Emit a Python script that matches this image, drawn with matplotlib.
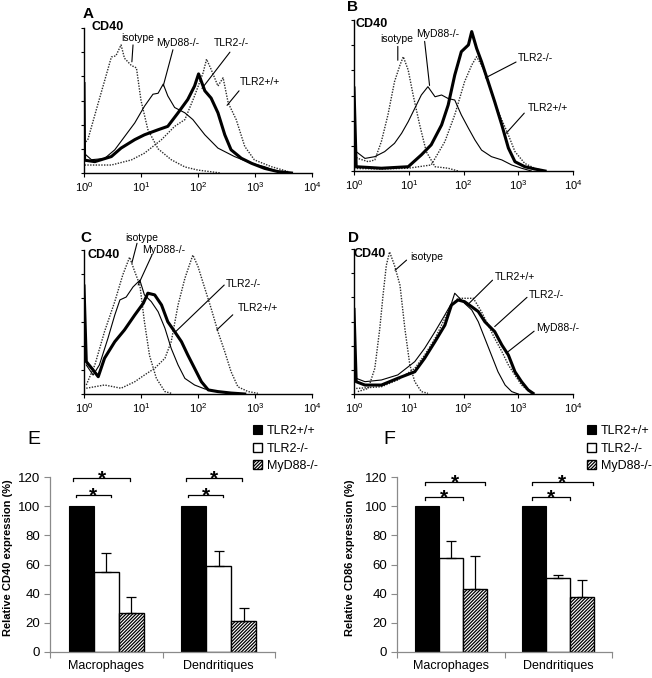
import matplotlib.pyplot as plt
import numpy as np

plt.rcParams['font.family'] = ['Liberation Sans', 'DejaVu Sans']
plt.rcParams['mathtext.default'] = 'regular'
plt.rcParams['hatch.linewidth'] = 0.9

W, H = 652, 678

# Flow cytometry histograms: x = log10 fluorescence (decades), y = cell count (tick units)
# Panel A
a_iso_x = [0.0, 0.07, 0.25, 0.42, 0.48, 0.56, 0.65, 0.71, 0.83, 0.92, 1.0, 1.12, 1.3, 1.53, 1.77, 2.0, 2.4]
a_iso_y = [1.2, 1.4, 2.9, 4.3, 4.8, 4.85, 5.3, 4.75, 4.45, 4.35, 3.0, 1.8, 1.0, 0.55, 0.25, 0.12, 0.0]
a_wt_x = [0.01, 0.48, 0.83, 1.06, 1.36, 1.59, 1.77, 1.94, 2.09, 2.15, 2.23, 2.35, 2.44, 2.53, 2.67, 2.82, 2.99, 3.29, 3.58]
a_wt_y = [0.33, 0.33, 0.54, 0.82, 1.38, 1.93, 2.21, 3.19, 4.15, 4.71, 4.29, 3.6, 3.94, 2.9, 2.21, 1.10, 0.54, 0.26, 0.06]
a_myd_x = [0.01, 0.13, 0.36, 0.54, 0.71, 0.89, 1.06, 1.21, 1.30, 1.39, 1.47, 1.59, 1.77, 1.91, 2.12, 2.35, 2.64, 2.94, 3.17, 3.40]
a_myd_y = [0.8, 0.55, 0.6, 0.96, 1.5, 2.07, 2.76, 3.26, 3.3, 3.68, 3.19, 2.71, 2.49, 2.21, 1.58, 1.03, 0.68, 0.40, 0.26, 0.06]
a_ko_x = [0.0, 0.01, 0.19, 0.48, 0.65, 0.89, 1.06, 1.30, 1.47, 1.65, 1.82, 1.94, 2.01, 2.12, 2.23, 2.35, 2.47, 2.58, 2.76, 2.94, 3.17, 3.40, 3.64]
a_ko_y = [3.7, 0.53, 0.47, 0.68, 1.03, 1.38, 1.58, 1.79, 1.93, 2.49, 3.04, 3.6, 4.1, 3.4, 3.1, 2.49, 1.58, 0.96, 0.61, 0.40, 0.19, 0.06, 0.0]

# Panel B
b_iso_x = [0.0, 0.07, 0.26, 0.38, 0.50, 0.62, 0.74, 0.84, 0.90, 0.99, 1.08, 1.20, 1.32, 1.48, 1.72, 1.90]
b_iso_y = [0.6, 0.5, 0.37, 0.44, 1.17, 2.23, 3.55, 4.21, 4.54, 4.01, 3.02, 1.83, 0.77, 0.17, 0.11, 0.0]
b_wt_x = [0.0, 0.5, 0.99, 1.41, 1.66, 1.84, 2.02, 2.15, 2.24, 2.36, 2.51, 2.66, 2.82, 2.94, 3.12, 3.30, 3.49]
b_wt_y = [0.1, 0.08, 0.11, 0.24, 1.17, 2.23, 3.55, 4.21, 4.54, 4.08, 3.15, 2.23, 1.43, 0.77, 0.30, 0.11, 0.0]
b_myd_x = [0.04, 0.20, 0.38, 0.56, 0.74, 0.87, 0.99, 1.11, 1.23, 1.35, 1.48, 1.60, 1.72, 1.84, 1.96, 2.09, 2.21, 2.33, 2.51, 2.70, 2.88, 3.06, 3.24]
b_myd_y = [0.77, 0.5, 0.57, 0.77, 1.10, 1.50, 1.96, 2.49, 3.02, 3.35, 2.95, 3.02, 2.88, 2.82, 2.23, 1.70, 1.23, 0.83, 0.57, 0.44, 0.24, 0.11, 0.0]
b_ko_x = [0.0, 0.04, 0.50, 0.99, 1.23, 1.41, 1.60, 1.72, 1.84, 1.96, 2.09, 2.15, 2.24, 2.33, 2.45, 2.57, 2.70, 2.82, 2.94, 3.12, 3.30, 3.49]
b_ko_y = [3.3, 0.17, 0.11, 0.17, 0.64, 1.04, 1.83, 2.62, 3.81, 4.74, 5.01, 5.54, 4.87, 4.34, 3.55, 2.75, 1.83, 0.91, 0.37, 0.17, 0.08, 0.0]

# Panel C
c_iso_x = [0.04, 0.19, 0.36, 0.54, 0.68, 0.80, 0.89, 0.98, 1.06, 1.15, 1.27, 1.42, 1.53]
c_iso_y = [0.375, 1.21, 2.60, 3.85, 4.96, 5.7, 5.1, 4.54, 3.01, 1.6, 0.65, 0.1, 0.03]
c_wt_x = [0.04, 0.36, 0.65, 0.89, 1.06, 1.24, 1.42, 1.53, 1.65, 1.77, 1.85, 1.91, 2.0, 2.12, 2.23, 2.35, 2.47, 2.58, 2.70, 2.88, 3.05]
c_wt_y = [0.24, 0.375, 0.24, 0.51, 0.79, 1.07, 1.49, 2.18, 3.71, 4.82, 5.38, 5.79, 5.31, 4.40, 3.57, 2.60, 1.76, 0.93, 0.30, 0.10, 0.03]
c_myd_x = [0.04, 0.16, 0.27, 0.42, 0.54, 0.63, 0.74, 0.86, 0.98, 1.06, 1.18, 1.30, 1.42, 1.53, 1.65, 1.77, 1.94, 2.12, 2.35, 2.58]
c_myd_y = [1.21, 0.79, 1.21, 2.32, 3.29, 3.92, 4.04, 4.46, 4.74, 4.13, 3.85, 3.43, 2.74, 1.90, 1.21, 0.65, 0.375, 0.21, 0.10, 0.03]
c_ko_x = [0.0, 0.04, 0.16, 0.25, 0.36, 0.54, 0.71, 0.89, 1.04, 1.12, 1.24, 1.36, 1.47, 1.59, 1.71, 1.82, 1.94, 2.06, 2.18, 2.35, 2.58, 2.82]
c_ko_y = [4.5, 1.35, 1.0, 0.72, 1.49, 2.18, 2.67, 3.29, 3.78, 4.2, 4.13, 3.71, 3.01, 2.6, 2.18, 1.63, 1.07, 0.51, 0.17, 0.10, 0.04, 0.0]

# Panel D
d_iso_x = [0.07, 0.26, 0.38, 0.47, 0.53, 0.59, 0.65, 0.74, 0.84, 0.93, 1.02, 1.11, 1.23, 1.35]
d_iso_y = [0.1, 0.23, 1.06, 2.69, 4.08, 5.32, 5.88, 5.32, 4.5, 2.69, 1.20, 0.51, 0.10, 0.03]
d_wt_x = [0.04, 0.50, 0.80, 1.11, 1.29, 1.48, 1.66, 1.78, 1.90, 2.02, 2.18, 2.33, 2.45, 2.57, 2.70, 2.82, 2.94, 3.06, 3.24]
d_wt_y = [0.23, 0.30, 0.58, 1.06, 1.61, 2.30, 3.13, 3.68, 3.96, 3.96, 3.96, 3.4, 2.85, 2.3, 1.76, 1.2, 0.78, 0.37, 0.03]
d_myd_x = [0.04, 0.20, 0.50, 0.80, 1.11, 1.29, 1.48, 1.66, 1.78, 1.84, 1.93, 2.02, 2.15, 2.27, 2.39, 2.51, 2.63, 2.76, 2.88, 3.0]
d_myd_y = [0.65, 0.51, 0.58, 0.79, 1.34, 1.89, 2.58, 3.27, 3.75, 4.17, 3.96, 3.75, 3.48, 2.99, 2.3, 1.61, 0.92, 0.37, 0.1, 0.0]
d_ko_x = [0.0, 0.04, 0.20, 0.50, 0.80, 1.11, 1.29, 1.48, 1.66, 1.78, 1.90, 2.02, 2.15, 2.27, 2.39, 2.57, 2.70, 2.82, 2.94, 3.06, 3.18, 3.27]
d_ko_y = [3.5, 0.51, 0.37, 0.37, 0.65, 0.92, 1.48, 2.17, 2.85, 3.68, 3.89, 3.82, 3.61, 3.41, 2.99, 2.58, 2.03, 1.61, 0.92, 0.51, 0.17, 0.03]

decades = [0, 1, 2, 3, 4]

# Relative expression bar charts
groups = ['Macrophages', 'Dendritiques']
strains = ['TLR2+/+', 'TLR2-/-', 'MyD88-/-']
cd40_wt = [100, 100]
cd40_tlr2 = [55, 59]
cd40_tlr2_err = [13, 10.5]
cd40_myd88 = [26.5, 21.5]
cd40_myd88_err = [11, 8.8]
cd86_wt = [100, 100]
cd86_tlr2 = [64.5, 51]
cd86_tlr2_err = [11.6, 1.6]
cd86_myd88 = [43, 38]
cd86_myd88_err = [22.5, 11.6]

fig = plt.figure(figsize=(W / 100, H / 100), dpi=100)


def px_rect(l, t, r, b):
    return [l / W, 1 - b / H, (r - l) / W, (b - t) / H]


def ftext(x, y, s, **kw):
    fig.text(x / W, 1 - y / H, s, **kw)


dotted = dict(color='#2a2a2a', lw=1.0, ls=(0, (1, 1)))
thin = dict(color='black', lw=0.8)
thick = dict(color='black', lw=2.2)


def hist_panel(box, curves, notes):
    ax = fig.add_axes(px_rect(*box))
    for x, y, style in curves:
        ax.plot(x, y, **style)
    ax.set_xlim(0, 4)
    ax.set_ylim(0, 6)
    ax.set_xticks(decades)
    ax.set_xticklabels(['$10^{%d}$' % d for d in decades], fontsize=8)
    ax.set_yticks(range(7))
    ax.set_yticklabels([])
    ax.tick_params(axis='x', length=3, width=0.8, pad=2)
    ax.tick_params(axis='y', length=2.5, width=0.8)
    for s in ['top', 'right']:
        ax.spines[s].set_visible(False)
    for s in ['left', 'bottom']:
        ax.spines[s].set_linewidth(1.0)
    for text, txy, ha, p0, p1 in notes:
        ax.annotate('', xy=p1, xytext=p0, annotation_clip=False,
                    arrowprops=dict(arrowstyle='-', lw=0.8, color='black',
                                    shrinkA=0, shrinkB=0))
        ax.text(txy[0], txy[1], text, ha=ha, va='center', fontsize=7.5, clip_on=False)
    return ax


hist_panel((84, 28, 312, 173),
           [(a_iso_x, a_iso_y, dotted), (a_wt_x, a_wt_y, dotted),
            (a_myd_x, a_myd_y, thin), (a_ko_x, a_ko_y, thick)],
           [('isotype', (0.95, 5.6), 'center', (0.86, 5.3), (0.84, 4.6)),
            ('MyD88-/-', (1.65, 5.4), 'center', (1.56, 5.1), (1.39, 3.6)),
            ('TLR2-/-', (2.58, 5.4), 'center', (2.56, 5.0), (2.07, 3.5)),
            ('TLR2+/+', (2.74, 3.75), 'left', (2.72, 3.4), (2.51, 2.8))])
hist_panel((354, 20, 573, 171),
           [(b_iso_x, b_iso_y, dotted), (b_wt_x, b_wt_y, dotted),
            (b_myd_x, b_myd_y, thin), (b_ko_x, b_ko_y, thick)],
           [('isotype', (0.78, 5.24), 'center', (0.8, 4.95), (0.8, 4.4)),
            ('MyD88-/-', (1.53, 5.44), 'center', (1.29, 5.15), (1.38, 3.4)),
            ('TLR2-/-', (3.0, 4.48), 'left', (2.96, 4.33), (2.4, 3.7)),
            ('TLR2+/+', (3.17, 2.5), 'left', (3.11, 2.3), (2.78, 1.5))])
hist_panel((84, 250, 312, 394),
           [(c_iso_x, c_iso_y, dotted), (c_wt_x, c_wt_y, dotted),
            (c_myd_x, c_myd_y, thin), (c_ko_x, c_ko_y, thick)],
           [('isotype', (1.02, 6.5), 'center', (0.93, 6.28), (0.84, 5.46)),
            ('MyD88-/-', (1.39, 6.0), 'center', (1.19, 5.78), (0.95, 4.54)),
            ('TLR2-/-', (2.48, 4.6), 'left', (2.46, 4.54), (1.6, 2.58)),
            ('TLR2+/+', (2.7, 3.58), 'left', (2.61, 3.3), (2.33, 2.67))])
hist_panel((354, 249, 573, 394),
           [(d_iso_x, d_iso_y, dotted), (d_wt_x, d_wt_y, dotted),
            (d_myd_x, d_myd_y, thin), (d_ko_x, d_ko_y, thick)],
           [('isotype', (1.02, 5.66), 'left', (0.96, 5.54), (0.75, 5.12)),
            ('TLR2+/+', (2.57, 4.83), 'left', (2.53, 4.71), (2.07, 3.68)),
            ('TLR2-/-', (3.2, 4.09), 'left', (3.16, 4.0), (2.57, 2.79)),
            ('MyD88-/-', (3.33, 2.73), 'left', (3.29, 2.6), (2.78, 1.69))])

for letter, lx, ly, cx, cy in [('A', 83, 14, 91, 27), ('B', 347, 7, 355, 24),
                               ('C', 80, 238, 88, 255), ('D', 348, 238, 353, 254)]:
    ftext(lx, ly, letter, fontsize=11, fontweight='bold', ha='left', va='center')
    ftext(cx, cy, 'CD40', fontsize=9, fontweight='bold', ha='left', va='center')


def bar_panel(box, wt, tlr2, tlr2_err, myd, myd_err, spans, ylabel, letter, letter_px, ylabel_px, legend_px):
    ax = fig.add_axes(px_rect(*box))
    x = np.array([0.5, 1.5])
    w = 0.222
    b1 = ax.bar(x - w, wt, w, color='black', edgecolor='black', lw=0.8)
    b2 = ax.bar(x, tlr2, w, color='white', edgecolor='black', lw=1.0)
    b3 = ax.bar(x + w, myd, w, color='white', edgecolor='black', hatch='//////////', lw=1.0)
    ax.errorbar(x, tlr2, yerr=[np.zeros(2), tlr2_err], fmt='none', ecolor='black',
                elinewidth=0.9, capsize=3.4, capthick=0.9)
    ax.errorbar(x + w, myd, yerr=[np.zeros(2), myd_err], fmt='none', ecolor='black',
                elinewidth=0.9, capsize=3.4, capthick=0.9)
    # significance brackets
    for xc in x:
        for lo, hi, y in spans:
            x0, x1 = xc - w + lo, xc + hi
            ax.plot([x0, x0, x1, x1], [y - 2, y, y, y - 2], color='black', lw=0.9, clip_on=False)
            ax.text((x0 + x1) / 2, y - 4.5, '*', ha='center', va='baseline',
                    fontsize=15, fontweight='bold', clip_on=False)
    ax.set_xlim(0, 2)
    ax.set_ylim(0, 120)
    ax.set_yticks(range(0, 121, 20))
    ax.set_xticks([0, 1, 2])
    ax.set_xticklabels([])
    ax.set_xticks(x, minor=True)
    ax.set_xticklabels(groups, minor=True, fontsize=9)
    ax.tick_params(axis='x', which='major', length=4, color='#8a8a8a')
    ax.tick_params(axis='x', which='minor', length=0, pad=6)
    ax.tick_params(axis='y', length=4, color='#8a8a8a', labelsize=9.5, pad=3)
    for s in ['top', 'right']:
        ax.spines[s].set_visible(False)
    for s in ['left', 'bottom']:
        ax.spines[s].set_color('#8a8a8a')
        ax.spines[s].set_linewidth(0.9)
    ftext(letter_px[0], letter_px[1], letter, fontsize=14, ha='left', va='center')
    ftext(ylabel_px[0], ylabel_px[1], ylabel, fontsize=8, fontweight='bold',
          rotation=90, ha='center', va='center')
    ax.legend([b1, b2, b3], strains, loc='upper left',
              bbox_to_anchor=(legend_px[0] / W, 1 - legend_px[1] / H),
              bbox_transform=fig.transFigure, frameon=False, fontsize=9,
              handlelength=0.75, handleheight=0.75, handletextpad=0.35,
              labelspacing=0.45, borderpad=0, borderaxespad=0)
    return ax


bar_panel((50, 477, 275, 652), cd40_wt, cd40_tlr2, cd40_tlr2_err, cd40_myd88, cd40_myd88_err,
          [(-0.05, 0.04, 108), (-0.07, 0.21, 119.5)],
          'Relative CD40 expression (%)', 'E', (27, 439), (8, 558), (253, 425))
bar_panel((397, 477, 612, 652), cd86_wt, cd86_tlr2, cd86_tlr2_err, cd86_myd88, cd86_myd88_err,
          [(-0.02, 0.11, 106.3), (-0.02, 0.32, 116.6)],
          'Relative CD86 expression (%)', 'F', (383, 439), (350, 558), (587, 425))

fig.savefig('out.png', dpi=100)
